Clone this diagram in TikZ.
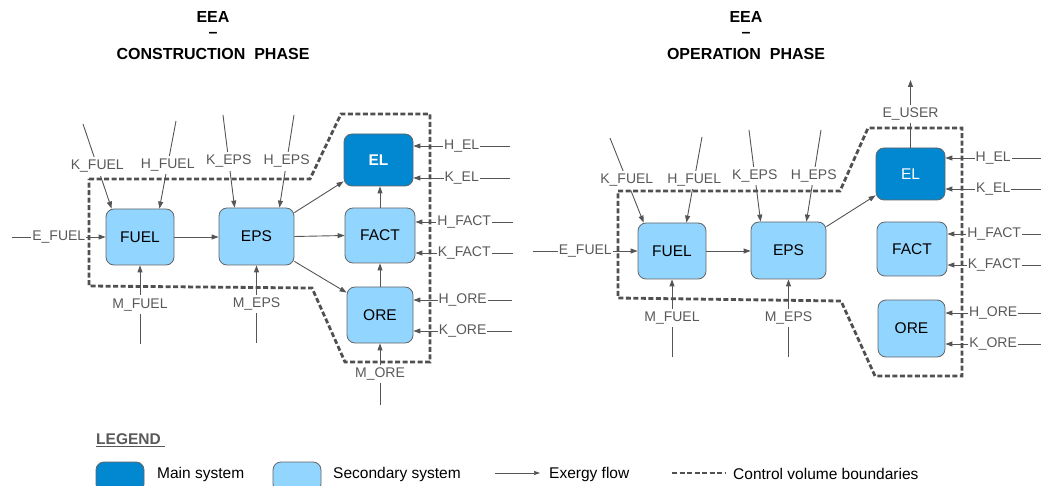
\documentclass[tikz,border=0pt]{standalone}
\usepackage{fontspec}
\setmainfont{Liberation Sans}
\definecolor{eemain}{RGB}{2,136,209}
\definecolor{eesec}{RGB}{146,213,255}
\definecolor{eeedge}{RGB}{100,100,100}
\definecolor{eearrow}{RGB}{85,85,85}
\definecolor{eetext}{RGB}{89,89,89}
\definecolor{eedash}{RGB}{80,80,80}
\usetikzlibrary{arrows.meta,positioning}

\begin{document}
\begin{tikzpicture}[
  x=1pt,y=-1pt,
  secbox/.style={draw=eeedge,line width=0.8pt,fill=eesec,rounded corners=8pt,
                 inner sep=0pt,font=\fontsize{15.5}{17}\selectfont},
  mainbox/.style={secbox,fill=eemain,text=white},
  flow/.style={draw=eearrow,line width=0.9pt,-{Triangle[length=7pt,width=5pt]}},
  lbl/.style={fill=white,text=eetext,inner xsep=1pt,inner ysep=3pt,
              font=\fontsize{14}{15}\selectfont},
  cvline/.style={draw=eedash,line width=2.8pt,dash pattern=on 5pt off 2.5pt},
  ttl/.style={align=center,inner sep=0pt,anchor=north,font=\fontsize{16}{15}\selectfont\bfseries},
  legtxt/.style={anchor=west,inner sep=0pt,font=\fontsize{15.5}{17}\selectfont},
]
  \useasboundingbox (0,0) rectangle (1041,486);

  % Titles
  \node[ttl] (ttlcon) at (213,11) {EEA\\–\\[7pt]CONSTRUCTION\ \ PHASE};
  \node[ttl] (ttlop) at (746,11) {EEA\\–\\[7pt]OPERATION\ \ PHASE};

  % Construction phase: systems
  \node[secbox,minimum width=68pt,minimum height=56pt] (fuelA) at (140,237) {FUEL};
  \node[secbox,minimum width=75pt,minimum height=57pt] (epsA) at (256.5,236.5) {EPS};
  \node[mainbox,minimum width=69pt,minimum height=52pt,font=\fontsize{15.5}{17}\selectfont\bfseries]
    (elA) at (378.5,160) {EL};
  \node[secbox,minimum width=70pt,minimum height=55pt] (factA) at (380,235.5) {FACT};
  \node[secbox,minimum width=66pt,minimum height=56pt] (oreA) at (380,315) {ORE};

  % Construction phase: internal flows
  \draw[flow] (fuelA.east) -- (fuelA.east -| epsA.west);
  \draw[flow] (epsA.east) -- (factA.west);
  \draw[flow] ([yshift=-5pt]epsA.north east) -- ([yshift=5pt]elA.south west);
  \draw[flow] ([yshift=4pt]epsA.south east) -- ([yshift=-6pt]oreA.north west);
  \draw[flow] (oreA.north) -- (oreA.north |- factA.south);
  \draw[flow] (factA.north) -- (factA.north |- elA.south);

  % Construction phase: inputs
  \coordinate (kfuelA) at (83,124);
  \coordinate (hfuelA) at (176,121);
  \coordinate (kepsA) at (223,115);
  \coordinate (hepsA) at (294,115);
  \coordinate (efuelA) at (12,237);
  \coordinate (mfuelA) at (140,344);
  \coordinate (mepsA) at (256.5,343);
  \coordinate (moreA) at (380,405);
  \coordinate (helA) at (510,146);
  \coordinate (kelA) at (510,178);
  \coordinate (hfactA) at (513,222);
  \coordinate (kfactA) at (513,253);
  \coordinate (horeA) at (512,300);
  \coordinate (koreA) at (512,331);
  \draw[flow] (kfuelA) -- node[lbl] {K\_FUEL} ([xshift=6pt]fuelA.north west);
  \draw[flow] (hfuelA) -- node[lbl] {H\_FUEL} ([xshift=-15pt]fuelA.north east);
  \draw[flow] (kepsA) -- node[lbl] {K\_EPS} ([xshift=16pt]epsA.north west);
  \draw[flow] (hepsA) -- node[lbl] {H\_EPS} ([xshift=-15pt]epsA.north east);
  \draw[flow] (efuelA) -- node[lbl] {E\_FUEL} (fuelA.west);
  \draw[flow] (mfuelA) -- node[lbl] {M\_FUEL} (fuelA.south);
  \draw[flow] (mepsA) -- node[lbl] {M\_EPS} (epsA.south);
  \draw[flow] (moreA) -- node[lbl] {M\_ORE} (oreA.south);
  \draw[flow] (helA) -- node[lbl] {H\_EL} (helA -| elA.east);
  \draw[flow] (kelA) -- node[lbl] {K\_EL} (kelA -| elA.east);
  \draw[flow] (hfactA) -- node[lbl] {H\_FACT} (hfactA -| factA.east);
  \draw[flow] (kfactA) -- node[lbl] {K\_FACT} (kfactA -| factA.east);
  \draw[flow] (horeA) -- node[lbl] {H\_ORE} (horeA -| oreA.east);
  \draw[flow] (koreA) -- node[lbl] {K\_ORE} (koreA -| oreA.east);

  % Construction phase: control volume
  \draw[cvline] (89,179) -- (310,179) -- (341,114) -- (430,114) -- (430,362)
    -- (345,362) -- (312,288) -- (89,286) -- cycle;

  % Operation phase: systems
  \node[secbox,minimum width=68pt,minimum height=56pt] (fuelB) at (672,251) {FUEL};
  \node[secbox,minimum width=75pt,minimum height=57pt] (epsB) at (788.5,250.5) {EPS};
  \node[mainbox,minimum width=69pt,minimum height=52pt] (elB) at (910.5,174) {EL};
  \node[secbox,minimum width=70pt,minimum height=54pt] (factB) at (912,249) {FACT};
  \node[secbox,minimum width=67pt,minimum height=57pt] (oreB) at (911.5,328.5) {ORE};

  % Operation phase: internal flows
  \draw[flow] (fuelB.east) -- (fuelB.east -| epsB.west);
  \draw[flow] ([yshift=-5pt]epsB.north east) -- ([yshift=5pt]elB.south west);

  % Operation phase: inputs and output
  \coordinate (kfuelB) at (610,138);
  \coordinate (hfuelB) at (702,137);
  \coordinate (kepsB) at (749,130);
  \coordinate (hepsB) at (821,130);
  \coordinate (efuelB) at (533,251);
  \coordinate (mfuelB) at (672,357);
  \coordinate (mepsB) at (788.5,357);
  \coordinate (euserB) at (910.5,80);
  \coordinate (helB) at (1041,158);
  \coordinate (kelB) at (1041,189);
  \coordinate (hfactB) at (1041,234);
  \coordinate (kfactB) at (1041,265);
  \coordinate (horeB) at (1041,313);
  \coordinate (koreB) at (1041,344);
  \draw[flow] (kfuelB) -- node[lbl] {K\_FUEL} ([xshift=6pt]fuelB.north west);
  \draw[flow] (hfuelB) -- node[lbl] {H\_FUEL} ([xshift=-20pt]fuelB.north east);
  \draw[flow] (kepsB) -- node[lbl] {K\_EPS} ([xshift=10pt]epsB.north west);
  \draw[flow] (hepsB) -- node[lbl] {H\_EPS} ([xshift=-20pt]epsB.north east);
  \draw[flow] (efuelB) -- node[lbl] {E\_FUEL} (fuelB.west);
  \draw[flow] (mfuelB) -- node[lbl] {M\_FUEL} (fuelB.south);
  \draw[flow] (mepsB) -- node[lbl] {M\_EPS} (epsB.south);
  \draw[flow] (elB.north) -- node[lbl] {E\_USER} (euserB);
  \draw[flow] (helB) -- node[lbl] {H\_EL} (helB -| elB.east);
  \draw[flow] (kelB) -- node[lbl] {K\_EL} (kelB -| elB.east);
  \draw[flow] (hfactB) -- node[lbl] {H\_FACT} (hfactB -| factB.east);
  \draw[flow] (kfactB) -- node[lbl] {K\_FACT} (kfactB -| factB.east);
  \draw[flow] (horeB) -- node[lbl] {H\_ORE} (horeB -| oreB.east);
  \draw[flow] (koreB) -- node[lbl] {K\_ORE} (koreB -| oreB.east);

  % Operation phase: control volume
  \draw[cvline] (618,191) -- (840,191) -- (868,128) -- (962,128) -- (962,376)
    -- (875,376) -- (841,301) -- (618,298) -- cycle;

  % Legend
  \node[legtxt,text=eetext,font=\fontsize{15.5}{17}\selectfont\bfseries]
    (leghead) at (96,440) {\underline{LEGEND\ }};
  \node[mainbox,minimum width=48pt,minimum height=30pt] (legmain) at (120,477) {};
  \node[legtxt] (legmaintxt) at (157,474) {Main system};
  \node[secbox,minimum width=48pt,minimum height=30pt] (legsec) at (297,477) {};
  \node[legtxt] (legsectxt) at (333,474) {Secondary system};
  \coordinate (legfa) at (495,473);
  \coordinate (legfb) at (540,473);
  \draw[flow,line width=0.7pt,-{Triangle[length=6pt,width=4pt]}] (legfa) -- (legfb);
  \node[legtxt] (legflow) at (549,474) {Exergy flow};
  \coordinate (legda) at (672,473);
  \coordinate (legdb) at (726,473);
  \draw[cvline,line width=2.2pt] (legda) -- (legdb);
  \node[legtxt] (legcv) at (733,474) {Control volume boundaries};
\end{tikzpicture}
\end{document}
